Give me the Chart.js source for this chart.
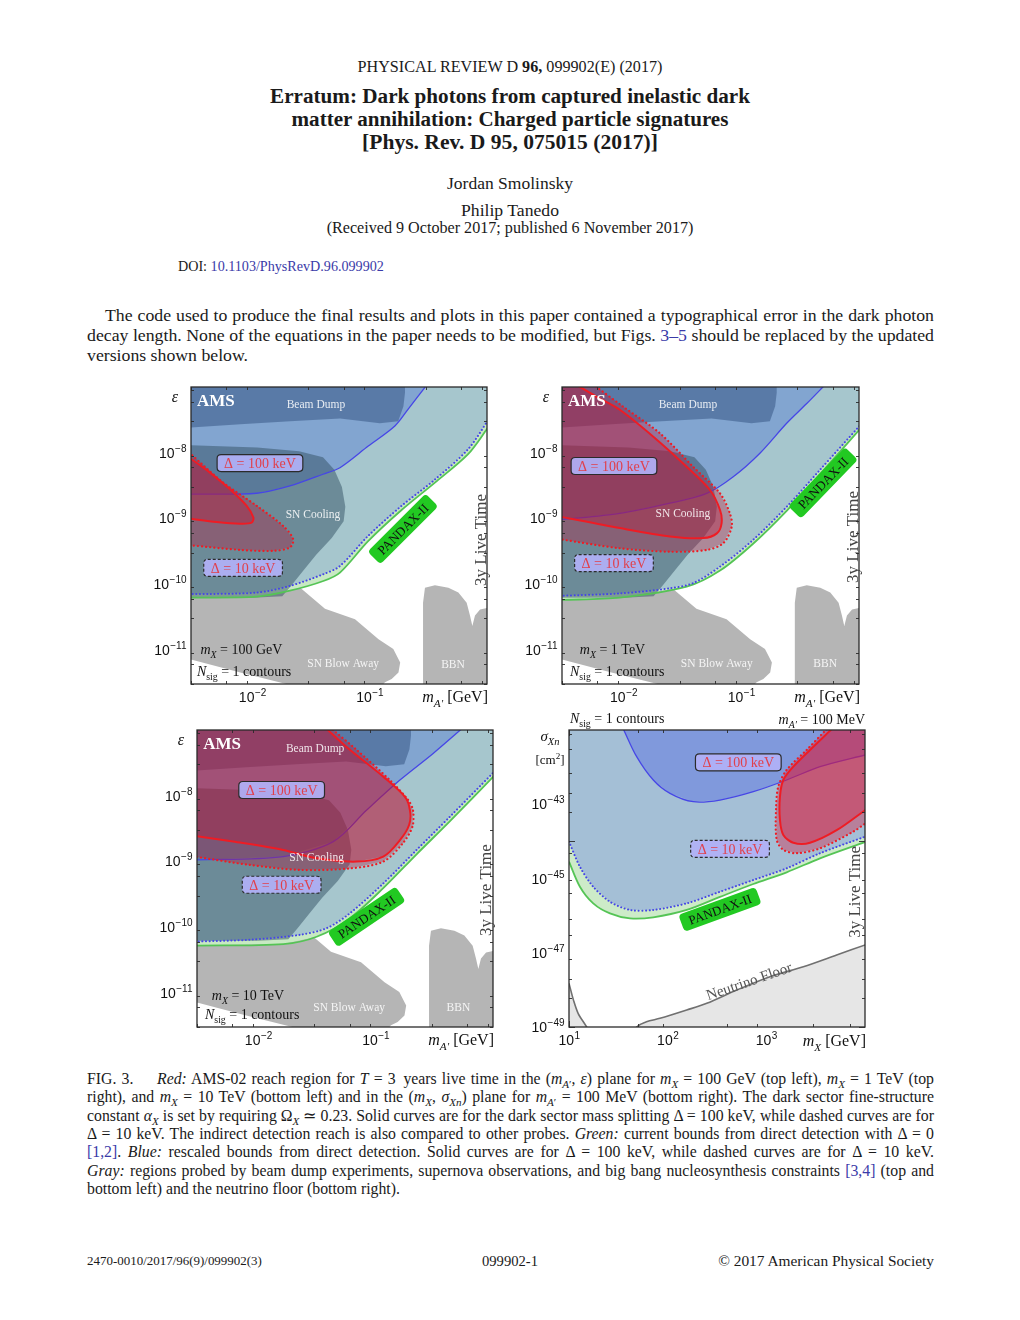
<!DOCTYPE html>
<html>
<head>
<meta charset="utf-8">
<title>Erratum: Dark photons from captured inelastic dark matter annihilation</title>
<script src="https://cdn.jsdelivr.net/npm/chart.js@4.4.1/dist/chart.umd.min.js"></script>
<style>
  html, body { margin: 0; padding: 0; background: #fff; }
  #page { position: relative; width: 1020px; height: 1320px; overflow: hidden;
          font-family: "Liberation Serif", "Times New Roman", serif; color: #1a1a1a; }
  .ln { position: absolute; white-space: nowrap; }
  .ctr { left: 0; width: 1020px; text-align: center; }
  .jst { position: absolute; left: 87px; width: 847px; text-align: justify; text-align-last: justify; }
  .lft { position: absolute; left: 87px; white-space: nowrap; }
  .lnk { color: #3a3aa8; }
  sub, sup { line-height: 0; font-size: 70%; }
  canvas { position: absolute; }
</style>
</head>
<body>
<div id="page">
  <div class="ln ctr" style="top:58px;font-size:14.5px;line-height:18px"><span data-w="305">PHYSICAL REVIEW D <b>96,</b> 099902(E) (2017)</span></div>
  <div class="ln ctr" style="top:84.5px;font-size:20px;line-height:23px;font-weight:bold"><span data-w="480">Erratum: Dark photons from captured inelastic dark</span></div>
  <div class="ln ctr" style="top:107.5px;font-size:20px;line-height:23px;font-weight:bold"><span data-w="437">matter annihilation: Charged particle signatures</span></div>
  <div class="ln ctr" style="top:130.5px;font-size:20px;line-height:23px;font-weight:bold"><span data-w="296">[Phys. Rev. D 95, 075015 (2017)]</span></div>
  <div class="ln ctr" style="top:173px;font-size:16px;line-height:20px"><span data-w="126">Jordan Smolinsky</span></div>
  <div class="ln ctr" style="top:200px;font-size:16px;line-height:20px"><span data-w="98">Philip Tanedo</span></div>
  <div class="ln ctr" style="top:219px;font-size:15px;line-height:18px"><span data-w="367">(Received 9 October 2017; published 6 November 2017)</span></div>
  <div class="ln" style="left:178px;top:257px;font-size:13px;line-height:18px"><span data-w="206">DOI: <span class="lnk">10.1103/PhysRevD.96.099902</span></span></div>

  <div class="jst grp-body" style="top:305px;left:105px;width:829px;font-size:16.3px;line-height:20px"><span>The code used to produce the final results and plots in this paper contained a typographical error in the dark photon</span></div>
  <div class="jst grp-body" style="top:325px;font-size:16.3px;line-height:20px"><span>decay length. None of the equations in the paper needs to be modified, but Figs. <span class="lnk">3–5</span> should be replaced by the updated</span></div>
  <div class="lft grp-body" style="top:345px;font-size:16.3px;line-height:20px">versions shown below.</div>

  <canvas id="c1"></canvas>
  <canvas id="c2"></canvas>
  <canvas id="c3"></canvas>
  <canvas id="c4"></canvas>

  <div class="jst grp-cap" style="top:1070px;font-size:14.3px;line-height:18px"><span>FIG. 3.&emsp;&ensp;<i>Red:</i> AMS-02 reach region for <i>T</i> = 3&ensp;years live time in the (<i>m</i><sub><i>A</i>′</sub>, <i>ε</i>) plane for <i>m</i><sub><i>X</i></sub> = 100 GeV (top left), <i>m</i><sub><i>X</i></sub> = 1 TeV (top</span></div>
  <div class="jst grp-cap" style="top:1088.3px;font-size:14.3px;line-height:18px"><span>right), and <i>m</i><sub><i>X</i></sub> = 10 TeV (bottom left) and in the (<i>m</i><sub><i>X</i></sub>, <i>σ</i><sub><i>Xn</i></sub>) plane for <i>m</i><sub><i>A</i>′</sub> = 100 MeV (bottom right). The dark sector fine-structure</span></div>
  <div class="jst grp-cap" style="top:1106.7px;font-size:14.3px;line-height:18px"><span>constant <i>α</i><sub><i>X</i></sub> is set by requiring Ω<sub><i>X</i></sub> ≃ 0.23. Solid curves are for the dark sector mass splitting Δ = 100 keV, while dashed curves are for</span></div>
  <div class="jst grp-cap" style="top:1125px;font-size:14.3px;line-height:18px"><span>Δ = 10 keV. The indirect detection reach is also compared to other probes. <i>Green:</i> current bounds from direct detection with Δ = 0</span></div>
  <div class="jst grp-cap" style="top:1143.3px;font-size:14.3px;line-height:18px"><span><span class="lnk">[1,2]</span>. <i>Blue:</i> rescaled bounds from direct detection. Solid curves are for Δ = 100 keV, while dashed curves are for Δ = 10 keV.</span></div>
  <div class="jst grp-cap" style="top:1161.7px;font-size:14.3px;line-height:18px"><span><i>Gray:</i> regions probed by beam dump experiments, supernova observations, and big bang nucleosynthesis constraints <span class="lnk">[3,4]</span> (top and</span></div>
  <div class="lft grp-cap" style="top:1180px;font-size:14.3px;line-height:18px">bottom left) and the neutrino floor (bottom right).</div>

  <div class="ln" style="left:87px;top:1252px;font-size:14px;line-height:18px"><span data-w="175">2470-0010/2017/96(9)/099902(3)</span></div>
  <div class="ln ctr" style="top:1252px;font-size:14px;line-height:18px"><span data-w="56">099902-1</span></div>
  <div class="ln" style="right:86px;top:1252px;font-size:14px;line-height:18px"><span data-w="216">© 2017 American Physical Society</span></div>
</div>

<script>
// ---- axis ranges and labelled ticks ----
const mA_range = [3e-3, 1];
const eps_range = [3e-12, 1e-7];
const mX_range = [10, 1e4];
const sigma_range = [1e-49, 1e-41];
const mA_ticks = [1e-2, 1e-1];
const eps_ticks = [1e-8, 1e-9, 1e-10, 1e-11];
const mX_ticks = [1e1, 1e2, 1e3];
const sigma_ticks = [1e-43, 1e-45, 1e-47, 1e-49];

// ---- constraints shared by the (mA', eps) panels ----
const beamDump = [[2.9e-3, 2.4e-8], [7.9e-3, 2.7e-8], [0.021, 3.0e-8], [0.056, 3.3e-8], [0.122, 2.8e-8],
                  [0.175, 3.0e-8], [0.194, 5.1e-8], [0.2, 8.2e-8], [0.2, 1.1e-7]];
const snCooling = [[2.9e-3, 1.3e-8], [0.011, 1.2e-8], [0.025, 1.05e-8], [0.04, 8.5e-9], [0.05, 5.5e-9],
                   [0.058, 3e-9], [0.062, 1.5e-9], [0.06, 9e-10], [0.0475, 5e-10], [0.035, 2.8e-10],
                   [0.028, 1.7e-10], [0.0215, 9.5e-11], [0.018, 6.5e-11], [0.01, 6.2e-11], [2.9e-3, 6.2e-11]];
const snBlowAway = [[2.9e-3, 1e-10], [0.02, 1e-10], [0.0262, 8.5e-11], [0.0416, 4.2e-11], [0.075, 2.9e-11],
                    [0.119, 1.44e-11], [0.159, 1.02e-11], [0.182, 6.4e-12], [0.176, 4.5e-12], [0.154, 3.56e-12],
                    [0.135, 3.2e-12], [0.12, 2.5e-12], [0.021, 2.9e-12], [7.9e-3, 4.5e-12], [2.9e-3, 7.2e-12]];
const bbn = [[0.285, 2e-12], [0.285, 5.2e-11], [0.296, 8.8e-11], [0.36, 9.6e-11], [0.469, 8.8e-11], [0.57, 7.4e-11],
             [0.671, 5.2e-11], [0.716, 3.3e-11], [0.75, 2.3e-11], [0.79, 3.3e-11], [0.873, 4.1e-11],
             [1.05, 4.4e-11], [1.05, 2e-12]];

// ---- top left: mX = 100 GeV ----
const p1_green = [[2.9e-3, 6.2e-11], [0.0109, 6.4e-11], [0.0209, 7.9e-11], [0.0403, 1.11e-10], [0.0558, 1.49e-10],
                  [0.097, 4.5e-10], [0.187, 1.34e-9], [0.36, 3.5e-9], [0.69, 9.5e-9], [1.02, 2.4e-8]];
const p1_blueDot = [[2.9e-3, 7.0e-11], [0.0109, 7.4e-11], [0.0209, 9.35e-11], [0.0403, 1.41e-10], [0.0558, 1.88e-10],
                    [0.097, 5.4e-10], [0.187, 1.55e-9], [0.36, 3.9e-9], [0.69, 1.13e-8], [1.02, 3.1e-8]];
const p1_blueSolid = [[2.9e-3, 2.33e-9], [0.0109, 2.41e-9], [0.0209, 3.11e-9], [0.040, 4.69e-9], [0.0558, 5.9e-9],
                      [0.0973, 1.26e-8], [0.164, 2.55e-8], [0.213, 4.6e-8], [0.31, 1.1e-7]];
const p1_redDot = [[2.9e-3, 1.0e-8], [5.65e-3, 3.5e-9], [0.0109, 1.55e-9], [0.0184, 7.6e-10], [0.0223, 4.8e-10],
                   [0.0209, 3.6e-10], [0.0151, 3.2e-10], [8e-3, 3.3e-10], [2.9e-3, 3.9e-10]];
const p1_redSolid = [[2.9e-3, 8.4e-9], [4.35e-3, 4.97e-9], [6.45e-3, 2.77e-9], [8.95e-3, 1.55e-9], [0.0102, 1.03e-9],
                     [9.86e-3, 8.6e-10], [7.85e-3, 8.3e-10], [4.97e-3, 8.8e-10], [2.9e-3, 9.9e-10]];

// ---- top right: mX = 1 TeV ----
const p2_green = [[2.9e-3, 5.7e-11], [9.3e-3, 6.2e-11], [0.0344, 9.1e-11], [0.066, 1.6e-10], [0.126, 4.1e-10],
                  [0.243, 1.3e-9], [0.467, 4.7e-9], [1.02, 2.3e-8]];
const p2_blueDot = [[2.9e-3, 6.6e-11], [9.3e-3, 7.2e-11], [0.0248, 8.6e-11], [0.039, 1.03e-10], [0.066, 1.84e-10],
                    [0.126, 4.7e-10], [0.243, 1.5e-9], [0.467, 5.5e-9], [1.02, 2.6e-8]];
const p2_blueSolid = [[2.9e-3, 9.5e-10], [9.3e-3, 1.19e-9], [0.0248, 1.7e-9], [0.0508, 2.4e-9], [0.0855, 4.3e-9],
                      [0.144, 9.8e-9], [0.243, 2.8e-8], [0.36, 5.6e-8], [0.52, 1.1e-7]];
const p2_redDot = [[5.5e-3, 1.1e-7], [9.95e-3, 5e-8], [0.0204, 1.97e-8], [0.039, 6.1e-9], [0.066, 2.4e-9],
                   [0.080, 1.19e-9], [0.083, 7.5e-10], [0.0705, 4.2e-10], [0.051, 3.3e-10], [0.0248, 3.1e-10],
                   [9.3e-3, 3.5e-10], [2.9e-3, 4.8e-10]];
const p2_redSolid = [[3.9e-3, 1.1e-7], [5.9e-3, 7.1e-8], [9.3e-3, 4.5e-8], [0.0179, 1.75e-8], [0.0344, 6.1e-9],
                     [0.0542, 2.7e-9], [0.066, 1.34e-9], [0.068, 8.4e-10], [0.062, 5.9e-10], [0.0475, 5e-10],
                     [0.0248, 5.3e-10], [9.3e-3, 7.1e-10], [2.9e-3, 1.06e-9]];

// ---- bottom left: mX = 10 TeV ----
const p3_green = [[2.9e-3, 5.2e-11], [0.0163, 5.5e-11], [0.0314, 7.1e-11], [0.0603, 1.36e-10], [0.116, 3.9e-10],
                  [0.223, 1.28e-9], [0.43, 4.1e-9], [1.02, 2e-8]];
const p3_blueDot = [[2.9e-3, 6e-11], [8.5e-3, 6.4e-11], [0.0226, 7.6e-11], [0.0382, 9.6e-11], [0.0603, 1.62e-10],
                    [0.116, 4.6e-10], [0.223, 1.49e-9], [0.43, 4.8e-9], [1.02, 2.3e-8]];
const p3_blueSolid = [[2.9e-3, 1.05e-9], [0.0163, 1.18e-9], [0.0435, 2e-9], [0.0835, 6e-9], [0.161, 1.73e-8],
                      [0.309, 4.4e-8], [0.56, 1.1e-7]];
const p3_redDot = [[0.0407, 1.1e-7], [0.0687, 5e-8], [0.132, 1.73e-8], [0.189, 8.6e-9], [0.208, 6e-9],
                   [0.206, 3.4e-9], [0.171, 1.9e-9], [0.116, 9.9e-10], [0.0603, 7.8e-10], [0.0226, 7.4e-10],
                   [8.5e-3, 8.8e-10], [2.9e-3, 1.18e-9]];
const p3_redSolid = [[0.0369, 1.1e-7], [0.0603, 5e-8], [0.116, 1.95e-8], [0.177, 9.7e-9], [0.196, 6e-9],
                     [0.193, 3.6e-9], [0.161, 2.1e-9], [0.116, 1.18e-9], [0.0687, 9.9e-10], [0.0314, 1.11e-9],
                     [0.0163, 1.49e-9], [6.1e-3, 2e-9], [2.9e-3, 2.44e-9]];

// ---- bottom right: (mX, sigma), mA' = 100 MeV ----
const p4_green = [[10, 2.84e-45], [12.9, 6e-46], [17.6, 2.14e-46], [26, 1.15e-46], [41.5, 8.4e-47], [71.5, 9e-47],
                  [156, 1.42e-46], [339, 3.2e-46], [738, 7.1e-46], [1607, 1.47e-45], [3500, 3.5e-45], [1.02e4, 9.8e-45]];
const p4_blueDot = [[10, 9.8e-45], [12.9, 2.08e-45], [17.6, 6e-46], [26, 2.37e-46], [41.5, 1.42e-46], [71.5, 1.42e-46],
                    [156, 2.14e-46], [339, 4.4e-46], [738, 9.1e-46], [1607, 1.88e-45], [3500, 4.8e-45], [1.02e4, 1.36e-44]];
const p4_blueSolid = [[35.6, 1.05e-41], [48.5, 1.91e-42], [71.5, 4.5e-43], [105.6, 1.97e-43], [182, 1.17e-43],
                      [339, 1.3e-43], [738, 2.18e-43], [1607, 4.5e-43], [3500, 1.03e-42], [1.02e4, 2.15e-42]];
const p4_redDot = [[4080, 1.05e-41], [2560, 2.9e-42], [1607, 8.4e-43], [1321, 3e-43], [1253, 7e-44], [1274, 1.09e-44],
                   [1487, 5.9e-45], [2030, 4.8e-45], [3500, 6.5e-45], [7600, 1.83e-44], [1.02e4, 3.1e-44]];
const p4_redSolid = [[4590, 1.05e-41], [2770, 2.9e-42], [1877, 1.03e-42], [1487, 4.5e-43], [1374, 1.6e-43],
                     [1374, 3.8e-44], [1487, 1.49e-44], [1877, 9.2e-45], [2770, 9.2e-45], [5160, 2e-44], [1.02e4, 7.2e-44]];
const p4_nuFloor = [[10, 1.5e-48], [11.1, 5.3e-49], [12.4, 2.3e-49], [15.1, 1e-49], [16.5, 6e-50], [45, 6e-50],
                    [48.5, 1e-49], [61, 1.39e-49], [83.6, 1.71e-49], [156, 2.87e-49], [249, 4.35e-49], [501, 9.9e-49],
                    [1089, 2.26e-48], [2371, 4.2e-48], [5160, 8.7e-48], [1.02e4, 1.65e-47]];

// ---------------------------------------------------------------------------
const SERIF = '"Liberation Serif", "Times New Roman", serif';
const SANS = '"Liberation Sans", Arial, sans-serif';

// fit page text to the measured widths
document.querySelectorAll('[data-w]').forEach(el => {
  const w = el.getBoundingClientRect().width;
  const fs = parseFloat(getComputedStyle(el).fontSize);
  el.style.fontSize = (fs * (+el.dataset.w) / w).toFixed(2) + 'px';
});
// justified paragraphs: one common size per paragraph, as large as the tightest line allows
['.grp-body', '.grp-cap'].forEach(sel => {
  const els = [...document.querySelectorAll(sel)];
  let scale = Infinity;
  els.filter(el => el.classList.contains('jst')).forEach(el => {
    el.style.whiteSpace = 'nowrap';
    el.style.textAlign = 'left';
    el.style.textAlignLast = 'auto';
    const w = el.firstElementChild.getBoundingClientRect().width;
    scale = Math.min(scale, (el.clientWidth - 3) / w);
    el.style.whiteSpace = '';
    el.style.textAlign = '';
    el.style.textAlignLast = '';
  });
  els.forEach(el => {
    const fs = parseFloat(getComputedStyle(el).fontSize);
    el.style.fontSize = (fs * scale).toFixed(2) + 'px';
  });
});

const toXY = pts => pts.map(([x, y]) => ({ x, y }));
const fillLayer = (pts, color, corners = []) => ({
  data: toXY(pts.concat(corners)), fill: 'shape', backgroundColor: color,
  borderColor: 'rgba(0,0,0,0)', borderWidth: 0, tension: 0, clip: 0
});
const lineLayer = (pts, color, width, dot) => ({
  data: toXY(pts), fill: false, borderColor: color, borderWidth: width,
  borderDash: dot ? [0.1, dot] : [], borderCapStyle: dot ? 'round' : 'butt',
  tension: 0.3, clip: 0
});

function logTicks(min, max) {
  const out = [];
  for (let e = Math.floor(Math.log10(min)); e <= Math.ceil(Math.log10(max)); e++) {
    for (let k = 1; k < 10; k++) {
      const v = k * Math.pow(10, e);
      if (v >= min * 0.999 && v <= max * 1.001) out.push(v);
    }
  }
  return out;
}
const isPow10 = v => Math.abs(Math.log10(v) - Math.round(Math.log10(v))) < 1e-6;

function fontFor(st, size) {
  const sz = (st.includes('s') || st.includes('p')) ? size * 0.7 : size;
  return (st.includes('i') ? 'italic ' : '') + (st.includes('b') ? 'bold ' : '') + sz.toFixed(1) + 'px ' + SERIF;
}
function drawRich(ctx, parts, x, y, size, align) {
  const items = parts.map(([t, st]) => {
    ctx.font = fontFor(st, size);
    return { t, st, f: ctx.font, w: ctx.measureText(t).width };
  });
  const total = items.reduce((s, it) => s + it.w, 0);
  let cx = align === 'center' ? x - total / 2 : align === 'right' ? x - total : x;
  ctx.textAlign = 'left';
  ctx.textBaseline = 'alphabetic';
  items.forEach(it => {
    ctx.font = it.f;
    const dy = it.st.includes('s') ? size * 0.28 : it.st.includes('p') ? -size * 0.38 : 0;
    ctx.fillText(it.t, cx, y + dy);
    cx += it.w;
  });
  return total;
}
function rrect(ctx, x, y, w, h, r) {
  ctx.beginPath();
  ctx.moveTo(x + r, y); ctx.lineTo(x + w - r, y); ctx.quadraticCurveTo(x + w, y, x + w, y + r);
  ctx.lineTo(x + w, y + h - r); ctx.quadraticCurveTo(x + w, y + h, x + w - r, y + h);
  ctx.lineTo(x + r, y + h); ctx.quadraticCurveTo(x, y + h, x, y + h - r);
  ctx.lineTo(x, y + r); ctx.quadraticCurveTo(x, y, x + r, y);
  ctx.closePath();
}
function powLabel(ctx, v, x, y, align) {
  const e = Math.round(Math.log10(v));
  const ex = (e < 0 ? '\u2212' : '') + Math.abs(e);
  ctx.font = '14px ' + SANS; const w1 = ctx.measureText('10').width;
  ctx.font = '10px ' + SANS; const w2 = ctx.measureText(ex).width;
  const x0 = align === 'center' ? x - (w1 + w2) / 2 : x - w1 - w2;
  ctx.textAlign = 'left'; ctx.textBaseline = 'alphabetic';
  ctx.font = '14px ' + SANS; ctx.fillText('10', x0, y);
  ctx.font = '10px ' + SANS; ctx.fillText(ex, x0 + w1 + 0.5, y - 6);
}

function drawNote(ctx, a, n) {
  const x = a.left + (n.fx || 0) * a.width + (n.ox || 0);
  const y = a.top + (n.fy || 0) * a.height + (n.oy || 0);
  ctx.save();
  ctx.translate(x, y);
  if (n.angle) ctx.rotate(n.angle * Math.PI / 180);
  if (n.kind === 'delta') {
    ctx.font = fontFor('', 14);
    const txt = '\u0394 = ' + n.val + ' keV';
    const w = ctx.measureText(txt).width + 14, h = 17;
    rrect(ctx, -w / 2, -h / 2, w, h, 4);
    ctx.fillStyle = 'rgba(176,176,246,0.93)';
    ctx.fill();
    ctx.setLineDash(n.dashed ? [3, 2] : []);
    ctx.strokeStyle = '#2b2b2b'; ctx.lineWidth = 1.2; ctx.stroke();
    ctx.setLineDash([]);
    ctx.fillStyle = '#e0404c';
    drawRich(ctx, [[txt, '']], 0, 5, 14, 'center');
  } else if (n.kind === 'pandax') {
    ctx.font = fontFor('', 13);
    const w = ctx.measureText('PANDAX-II').width + 16, h = 18;
    rrect(ctx, -w / 2, -h / 2, w, h, 4);
    ctx.fillStyle = '#22c922'; ctx.fill();
    ctx.fillStyle = '#111';
    drawRich(ctx, [['PANDAX-II', '']], 0, 4.5, 13, 'center');
  } else {
    ctx.fillStyle = n.color || '#111';
    const size = n.size || 14;
    drawRich(ctx, n.parts, 0, size * 0.34, size, n.align || 'center');
  }
  ctx.restore();
}

function makeDecor(spec) {
  return {
    id: 'decor',
    afterDatasetsDraw(chart) {
      const { ctx, chartArea: a, scales } = chart;
      ctx.save();
      spec.notes.forEach(n => drawNote(ctx, a, n));
      ctx.strokeStyle = '#2a2a2a';
      ctx.lineWidth = 0.9;
      ctx.beginPath();
      scales.x.ticks.forEach(t => {
        const p = Math.round(scales.x.getPixelForValue(t.value)) + 0.5;
        const len = isPow10(t.value) ? 6 : 3;
        ctx.moveTo(p, a.bottom); ctx.lineTo(p, a.bottom - len);
        ctx.moveTo(p, a.top); ctx.lineTo(p, a.top + len);
      });
      scales.y.ticks.forEach(t => {
        const p = Math.round(scales.y.getPixelForValue(t.value)) + 0.5;
        const len = isPow10(t.value) ? 6 : 3;
        ctx.moveTo(a.left, p); ctx.lineTo(a.left + len, p);
        ctx.moveTo(a.right, p); ctx.lineTo(a.right - len, p);
      });
      ctx.stroke();
      ctx.lineWidth = 1.3;
      ctx.strokeRect(a.left, a.top, a.width, a.height);
      ctx.fillStyle = '#111';
      spec.xLabels.forEach(v => powLabel(ctx, v, scales.x.getPixelForValue(v), a.bottom + 18, 'center'));
      spec.yLabels.forEach(v => powLabel(ctx, v, a.left - 5, scales.y.getPixelForValue(v) + 5, 'right'));
      ctx.restore();
    }
  };
}

function buildPanel(spec) {
  const [L, T, R, B] = spec.frame;
  const pad = { left: 65, top: 28, right: 30, bottom: 34 };
  const cv = document.getElementById(spec.id);
  cv.width = R - L + pad.left + pad.right;
  cv.height = B - T + pad.top + pad.bottom;
  cv.style.left = (L - pad.left) + 'px';
  cv.style.top = (T - pad.top) + 'px';
  const datasets = spec.layers.map((ds, i, arr) => Object.assign({ pointRadius: 0, order: arr.length - i }, ds));
  const axis = r => ({
    type: 'logarithmic', display: false, min: r[0], max: r[1], bounds: 'data',
    afterBuildTicks: s => { s.ticks = logTicks(r[0], r[1]).map(v => ({ value: v })); }
  });
  return new Chart(cv, {
    type: 'line',
    data: { datasets },
    options: {
      responsive: false, animation: false, events: [],
      layout: { padding: pad },
      plugins: { legend: { display: false }, tooltip: { enabled: false } },
      elements: { point: { radius: 0 }, line: { capBezierPoints: false } },
      scales: { x: axis(spec.x), y: axis(spec.y) }
    },
    plugins: [makeDecor(spec)]
  });
}

// corners used to close regions outside the plotted window
const EPS_TOP = [[1.05, 2e-7], [2e-3, 2e-7]];
const EPS_TL = [[2e-3, 2e-7]];

const C = {
  gray: '#b5b5b5', green: '#c8e9c3', teal: '#a6c6cd', lblue: '#82a5d0',
  beam: 'rgba(40,72,118,0.45)', cool: 'rgba(45,75,95,0.48)', red: 'rgba(185,20,55,0.35)',
  gline: '#55c455', bline: '#4646e6', rline: '#ee1c24'
};

function epsLayers(green, blueDot, blueSolid, redDot, redSolid, redCorners) {
  return [
    fillLayer(snBlowAway, C.gray),
    fillLayer(bbn, C.gray),
    fillLayer(green, C.green, EPS_TOP),
    fillLayer(blueDot, C.teal, EPS_TOP),
    fillLayer(blueSolid, C.lblue, EPS_TL),
    fillLayer(beamDump, C.beam, EPS_TL),
    fillLayer(snCooling, C.cool),
    lineLayer(green, C.gline, 1.8),
    lineLayer(blueDot, C.bline, 2, 3.5),
    lineLayer(blueSolid, C.bline, 1.3),
    fillLayer(redDot, C.red, redCorners),
    fillLayer(redSolid, C.red, redCorners),
    lineLayer(redDot, C.rline, 2.2, 4),
    lineLayer(redSolid, C.rline, 2)
  ];
}

const WHITE = 'rgba(255,255,255,0.86)';
function epsNotes(o) {
  return [
    { parts: [['AMS', 'b']], fx: o.ams[0], fy: o.ams[1], size: 17, color: '#fff', align: 'left' },
    { parts: [['Beam Dump', '']], fx: o.beam[0], fy: o.beam[1], size: 11.5, color: WHITE },
    { kind: 'delta', val: '100', fx: o.d100[0], fy: o.d100[1] },
    { parts: [['SN Cooling', '']], fx: o.cool[0], fy: o.cool[1], size: 11.5, color: WHITE },
    { kind: 'delta', val: '10', dashed: true, fx: o.d10[0], fy: o.d10[1] },
    { kind: 'pandax', fx: o.pandax[0], fy: o.pandax[1], angle: o.pandax[2] },
    { parts: [['3y Live Time', '']], fx: o.live[0], fy: o.live[1], size: 17, color: '#444', angle: -90 },
    { parts: [['m', 'i'], ['X', 'si'], [' = ' + o.mass, '']], fx: o.mx[0], fy: o.mx[1], size: 14, align: 'left' },
    { parts: [['N', 'i'], ['sig', 's'], [' = 1 contours', '']], fx: o.ns[0], fy: o.ns[1], size: 14, align: 'left' },
    { parts: [['SN Blow Away', '']], fx: o.blow[0], fy: o.blow[1], size: 11.5, color: WHITE },
    { parts: [['BBN', '']], fx: o.bbn[0], fy: o.bbn[1], size: 11.5, color: WHITE },
    { parts: [['\u03b5', 'i']], ox: -16, oy: 10, size: 16 },
    { parts: [['m', 'i'], ['A\u2032', 'si'], [' [GeV]', '']], fx: 1, ox: 1, fy: 1, oy: 13, size: 16, align: 'right' }
  ];
}

buildPanel({
  id: 'c1', frame: [191, 387, 487, 684], x: mA_range, y: eps_range, xLabels: mA_ticks, yLabels: eps_ticks,
  layers: epsLayers(p1_green, p1_blueDot, p1_blueSolid, p1_redDot, p1_redSolid, []),
  notes: epsNotes({ ams: [0.02, 0.044], beam: [0.422, 0.057], d100: [0.233, 0.256], cool: [0.412, 0.428],
                    d10: [0.176, 0.609], pandax: [0.716, 0.478, -45], live: [0.978, 0.515], mass: '100 GeV',
                    mx: [0.032, 0.884], ns: [0.02, 0.957], blow: [0.514, 0.93], bbn: [0.885, 0.933] })
});
buildPanel({
  id: 'c2', frame: [562, 387, 859, 684], x: mA_range, y: eps_range, xLabels: mA_ticks, yLabels: eps_ticks,
  layers: epsLayers(p2_green, p2_blueDot, p2_blueSolid, p2_redDot, p2_redSolid, EPS_TL),
  notes: epsNotes({ ams: [0.02, 0.044], beam: [0.424, 0.057], d100: [0.175, 0.266], cool: [0.407, 0.424],
                    d10: [0.175, 0.593], pandax: [0.879, 0.323, -46], live: [0.976, 0.505], mass: '1 TeV',
                    mx: [0.06, 0.884], ns: [0.027, 0.957], blow: [0.521, 0.93], bbn: [0.886, 0.93] })
});
buildPanel({
  id: 'c3', frame: [197, 730, 493, 1027], x: mA_range, y: eps_range, xLabels: mA_ticks, yLabels: eps_ticks,
  layers: epsLayers(p3_green, p3_blueDot, p3_blueSolid, p3_redDot, p3_redSolid, EPS_TL),
  notes: epsNotes({ ams: [0.021, 0.045], beam: [0.399, 0.062], d100: [0.286, 0.202], cool: [0.404, 0.428],
                    d10: [0.286, 0.521], pandax: [0.573, 0.629, -34], live: [0.973, 0.539], mass: '10 TeV',
                    mx: [0.05, 0.892], ns: [0.027, 0.956], blow: [0.514, 0.932], bbn: [0.883, 0.932] })
});

const SIG_TOP = [[1.05e4, 1e-39], [9, 1e-39]];
buildPanel({
  id: 'c4', frame: [569, 730, 865, 1027], x: mX_range, y: sigma_range, xLabels: mX_ticks, yLabels: sigma_ticks,
  layers: [
    fillLayer(p4_nuFloor, '#e6e6e6', [[1.05e4, 1e-50], [9, 1e-50], [9, 1.5e-48]]),
    fillLayer(p4_green, '#cdebc8', SIG_TOP.concat([[9, 2.84e-45]])),
    fillLayer(p4_blueDot, '#a4bfd6', SIG_TOP.concat([[9, 9.8e-45]])),
    fillLayer(p4_blueSolid, '#8099dc', [[1.05e4, 1e-39], [30, 1e-39]]),
    lineLayer(p4_nuFloor, '#707070', 1.6),
    lineLayer(p4_green, C.gline, 1.8),
    lineLayer(p4_blueDot, C.bline, 2, 3.5),
    lineLayer(p4_blueSolid, C.bline, 1.3),
    fillLayer(p4_redDot, 'rgba(215,25,60,0.38)', [[2e4, 1e-39]]),
    fillLayer(p4_redSolid, 'rgba(215,25,60,0.38)', [[2e4, 1e-39]]),
    lineLayer(p4_redDot, C.rline, 2.2, 4),
    lineLayer(p4_redSolid, C.rline, 2)
  ],
  notes: [
    { kind: 'delta', val: '100', fx: 0.572, fy: 0.109 },
    { kind: 'delta', val: '10', dashed: true, fx: 0.544, fy: 0.40 },
    { kind: 'pandax', fx: 0.51, fy: 0.604, angle: -20 },
    { parts: [['3y Live Time', '']], fx: 0.962, fy: 0.545, size: 17, color: '#444', angle: -90 },
    { parts: [['Neutrino Floor', '']], fx: 0.608, fy: 0.845, size: 15, color: '#555', angle: -19 },
    { parts: [['N', 'i'], ['sig', 's'], [' = 1 contours', '']], ox: 1, oy: -12, size: 14, align: 'left' },
    { parts: [['m', 'i'], ['A\u2032', 'si'], [' = 100 MeV', '']], fx: 1, oy: -11, size: 14, align: 'right' },
    { parts: [['\u03c3', 'i'], ['Xn', 'si']], ox: -19, oy: 6, size: 15 },
    { parts: [['[cm', ''], ['2', 'p'], [']', '']], ox: -19, oy: 30, size: 13 },
    { parts: [['m', 'i'], ['X', 'si'], [' [GeV]', '']], fx: 1, ox: 1, fy: 1, oy: 14, size: 16, align: 'right' }
  ]
});
</script>
</body>
</html>
